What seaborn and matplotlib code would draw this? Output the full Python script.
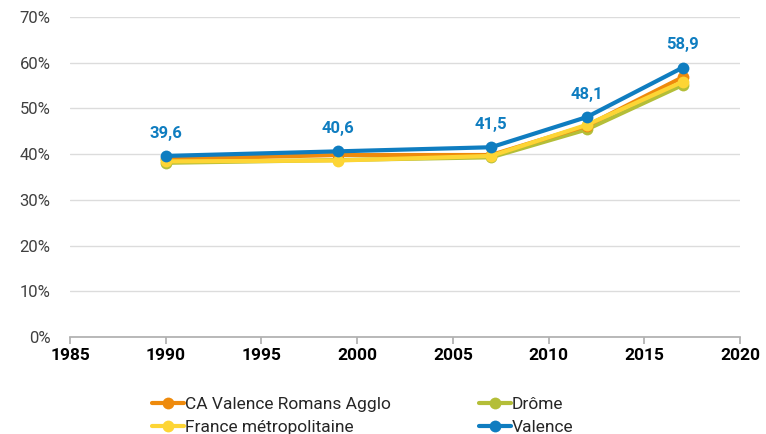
import pandas as pd
import seaborn as sns
import matplotlib.pyplot as plt

years = [1990, 1999, 2007, 2012, 2017]
ca_valence = [38.9, 39.8, 39.8, 46.2, 56.8]
drome = [38.1, 38.7, 39.3, 45.4, 55.1]
france = [38.4, 38.6, 39.6, 46.4, 55.8]
valence = [39.6, 40.6, 41.5, 48.1, 58.9]

series = {
    "CA Valence Romans Agglo": (ca_valence, "#EE8A0C"),
    "France métropolitaine": (france, "#FDD535"),
    "Drôme": (drome, "#B4BE38"),
    "Valence": (valence, "#0F7DC0"),
}

sns.set_theme(style="white")
plt.rcParams['font.family'] = ['Roboto', 'DejaVu Sans']

fig = plt.figure(figsize=(7.66, 4.34), dpi=100)
ax = fig.add_axes([0.0914, 0.2235, 0.8746, 0.7375])

draw_order = ["Drôme", "CA Valence Romans Agglo", "France métropolitaine", "Valence"]
for name in draw_order:
    vals, col = series[name]
    df = pd.DataFrame({"annee": years, "part": vals})
    sns.lineplot(data=df, x="annee", y="part", ax=ax, color=col, linewidth=3,
                 marker="o", markersize=8.5, markeredgewidth=0, label=name)

for x, v in zip(years, valence):
    ax.annotate(f"{v:.1f}".replace(".", ","), (x, v), xytext=(0, 11),
                textcoords="offset points", ha="center", va="bottom",
                color="#0F7DC0", fontsize=12, fontweight="bold")

ax.set_xlim(1985, 2020)
ax.set_ylim(0, 70)
ax.set_xticks(range(1985, 2021, 5))
ax.set_yticks(range(0, 71, 10))
ax.set_yticklabels([f"{t}%" for t in range(0, 71, 10)])
ax.set_xlabel("")
ax.set_ylabel("")
ax.grid(axis="y", color="#DCDCDC", linewidth=1)
ax.set_axisbelow(True)
for s in ["left", "right", "top"]:
    ax.spines[s].set_visible(False)
ax.spines["bottom"].set_color("#B0B0B0")
ax.tick_params(axis="x", bottom=True, length=5, color="#B0B0B0", labelsize=12.5,
               labelcolor="black", pad=3)
for lbl in ax.get_xticklabels():
    lbl.set_fontweight("bold")
ax.tick_params(axis="y", left=False, labelsize=12, labelcolor="#404040", pad=8)

ax.get_legend().remove()
handles, labels = ax.get_legend_handles_labels()
order = ["CA Valence Romans Agglo", "France métropolitaine", "Drôme", "Valence"]
hmap = dict(zip(labels, handles))
fig.legend([hmap[n] for n in order], order, ncol=2, loc="upper left",
           bbox_to_anchor=(0.198, 0.086), frameon=False, fontsize=12.5,
           handlelength=1.85, handletextpad=0.05, columnspacing=5.1,
           labelspacing=0.45, borderaxespad=0, borderpad=0)

fig.savefig("out.png", dpi=100)
